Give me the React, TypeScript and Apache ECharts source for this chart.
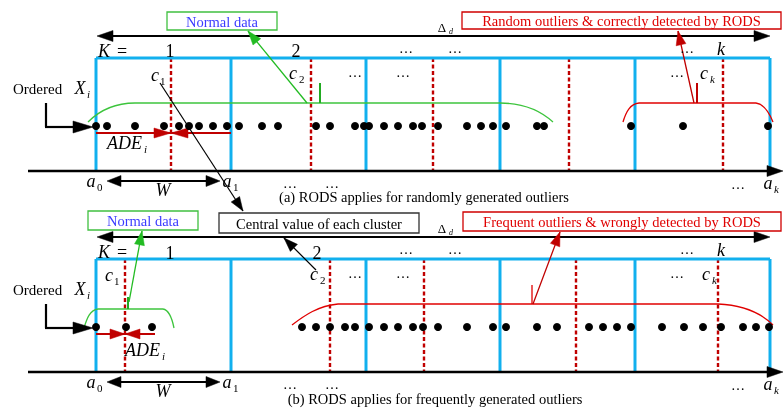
import React, { useEffect, useRef } from "react";
import * as echarts from "echarts";

// ---- data (x positions along the ordered axis) ----
const dotsA = [96, 107, 135, 164, 179, 189, 199, 213, 227, 239, 262, 278, 316, 330, 355, 364, 369, 384, 398, 413, 422, 438, 467, 481, 493, 506, 537, 544, 631, 683, 768];
const dotsB = [96, 126, 152, 302, 316, 330, 345, 355, 369, 384, 398, 413, 423, 438, 467, 493, 506, 537, 557, 589, 603, 617, 631, 662, 684, 703, 721, 743, 756, 769];
const boundaries = [96, 231, 366, 500, 635, 770];
const centersA = [171, 311, 433, 569, 723];
const centersB = [125, 330, 424, 576, 718];
const rowA = 126;
const rowB = 327;
const captionA = "(a) RODS applies for randomly generated outliers";
const captionB = "(b) RODS applies for frequently generated outliers";
const boxTextA = "Random outliers & correctly detected by RODS";
const boxTextB = "Frequent outliers & wrongly detected by RODS";
const centralText = "Central value of each cluster";
const normalText = "Normal data";

const SERIF = "'Liberation Serif', 'Times New Roman', serif";
const BLUE = "#12b0ee";
const DRED = "#c00000";
const RED = "#e00000";
const GREEN = "#3cc43c";

function txt(x: number, y: number, s: string, size: number, color = "#000", italic = false, align = "center") {
  return {
    type: "text", x, y, z: 30,
    style: {
      text: s, font: `${italic ? "italic " : ""}${size}px ${SERIF}`, fill: color,
      align, verticalAlign: "middle", textAlign: align, textVerticalAlign: "middle",
    },
  };
}
function sym(x: number, y: number, main: string, sub: string, subDx: number, size = 18) {
  const subItalic = /[a-z]/i.test(sub);
  return [
    txt(x, y, main, size, "#000", true, "center"),
    txt(x + subDx, y + 6, sub, Math.round(size * 0.62), "#000", subItalic, "left"),
  ];
}
function seg(x1: number, y1: number, x2: number, y2: number, color: string, lw: number, dash?: number[]) {
  return { type: "line", z: 10, shape: { x1, y1, x2, y2 }, style: { stroke: color, lineWidth: lw, lineDash: dash, fill: "none" } };
}
function head(fx: number, fy: number, tx: number, ty: number, L: number, w: number, color: string) {
  const dx = tx - fx, dy = ty - fy;
  const d = Math.hypot(dx, dy);
  const ux = dx / d, uy = dy / d;
  const bx = tx - ux * L, by = ty - uy * L;
  return {
    type: "polygon", z: 12,
    shape: { points: [[tx, ty], [bx - uy * w, by + ux * w], [bx + uy * w, by - ux * w]] },
    style: { fill: color, stroke: color, lineWidth: 0.5 },
  };
}
function arrow(x1: number, y1: number, x2: number, y2: number, color: string, lw: number, L = 12, w = 4.5) {
  return [seg(x1, y1, x2, y2, color, lw), head(x1, y1, x2, y2, L, w, color)];
}
function curve(x1: number, y1: number, cpx1: number, cpy1: number, cpx2: number, cpy2: number, x2: number, y2: number, color: string, lw: number) {
  return { type: "bezierCurve", z: 10, shape: { x1, y1, cpx1, cpy1, cpx2, cpy2, x2, y2 }, style: { stroke: color, lineWidth: lw, fill: "none" } };
}
function box(x: number, y: number, w: number, h: number, border: string, text: string, color: string) {
  return [
    { type: "rect", z: 15, shape: { x, y, width: w, height: h }, style: { fill: "#fff", stroke: border, lineWidth: 1.3 } },
    txt(x + w / 2, y + h / 2 + 0.5, text, 14.5, color),
  ];
}

function panel(yo: number) {
  const els: any[] = [];
  // top double arrow (Δd)
  els.push(seg(108, 36 + yo, 760, 36 + yo, "#000", 2.2));
  els.push(head(130, 36 + yo, 97, 36 + yo, 16, 5.5, "#000"));
  els.push(head(740, 36 + yo, 770, 36 + yo, 16, 5.5, "#000"));
  els.push(txt(442, 27 + yo, "Δ", 13, "#000", false, "center"));
  els.push(txt(449, 31 + yo, "d", 8, "#000", true, "left"));
  // K = ...
  els.push(txt(104, 51 + yo, "K", 18, "#000", true));
  els.push(txt(122, 51 + yo, "=", 18));
  els.push(txt(406, 48 + yo, "…", 14));
  els.push(txt(455, 48 + yo, "…", 14));
  els.push(txt(687, 48 + yo, "…", 14));
  els.push(txt(721, 49 + yo, "k", 18, "#000", true));
  // dots inside boxes
  els.push(txt(355, 72 + yo, "…", 14));
  els.push(txt(403, 72 + yo, "…", 14));
  els.push(txt(677, 72 + yo, "…", 14));
  // top blue line
  els.push(seg(96, 58 + yo, 770, 58 + yo, BLUE, 3));
  // axis
  els.push(seg(28, 171 + yo, 770, 171 + yo, "#000", 2.5));
  els.push(head(760, 171 + yo, 783, 171 + yo, 16, 5.5, "#000"));
  // Ordered X_i
  els.push(txt(13, 89 + yo, "Ordered", 15, "#000", false, "left"));
  els.push(...sym(80, 88 + yo, "X", "i", 7));
  // L arrow
  els.push(seg(46, 103 + yo, 46, 127 + yo, "#000", 2.2));
  els.push(seg(45, 127 + yo, 76, 127 + yo, "#000", 2.2));
  els.push(head(60, 127 + yo, 93, 127 + yo, 20, 6, "#000"));
  // bottom labels
  els.push(...sym(91, 181 + yo, "a", "0", 6));
  els.push(seg(118, 181 + yo, 210, 181 + yo, "#000", 2.2));
  els.push(head(150, 181 + yo, 107, 181 + yo, 14, 5.5, "#000"));
  els.push(head(180, 181 + yo, 220, 181 + yo, 14, 5.5, "#000"));
  els.push(txt(163, 190 + yo, "W", 18, "#000", true));
  els.push(...sym(227, 181 + yo, "a", "1", 6));
  els.push(txt(290, 183 + yo, "…", 14));
  els.push(txt(332, 183 + yo, "…", 14));
  els.push(txt(738, 184 + yo, "…", 14));
  els.push(...sym(768, 183 + yo, "a", "k", 6));
  return els;
}

export default function App() {
  const ref = useRef<HTMLDivElement>(null);
  useEffect(() => {
    document.body.style.margin = "0";
    const chart = echarts.init(ref.current!, null, { renderer: "svg" });
    const yo = 201;
    const g: any[] = [];
    g.push(...panel(0), ...panel(yo));

    // ---------- panel (a) specifics ----------
    g.push(txt(170, 51, "1", 18));
    g.push(txt(296, 51, "2", 18));
    g.push(...sym(155, 75, "c", "1", 5));
    g.push(...sym(293, 73, "c", "2", 6));
    g.push(...sym(704, 73, "c", "k", 6));
    g.push(seg(96, 133, 231, 133, DRED, 2));
    g.push(head(150, 133, 171, 133, 17, 5, DRED));
    g.push(head(195, 133, 171, 133, 17, 5, DRED));
    g.push(txt(107, 143, "ADE", 18, "#000", true, "left"));
    g.push(txt(144, 149, "i", 11, "#000", true, "left"));
    g.push(curve(88, 122, 100, 110, 115, 103, 135, 103, GREEN, 1.3));
    g.push(seg(135, 103, 500, 103, GREEN, 1.3));
    g.push(curve(500, 103, 522, 103, 540, 110, 553, 122, GREEN, 1.3));
    g.push(seg(320, 83, 320, 103, "#22aa22", 2));
    g.push(...arrow(307, 103, 248, 31, "#22bb22", 1.3, 14, 5));
    g.push(curve(623, 122, 626, 112, 630, 104, 639, 103, RED, 1.3));
    g.push(seg(639, 103, 756, 103, RED, 1.3));
    g.push(curve(756, 103, 764, 104, 769, 112, 773, 122, RED, 1.3));
    g.push(seg(697, 83, 697, 103, DRED, 2));
    g.push(...arrow(694, 103, 678, 31, DRED, 1.3, 14, 5));
    g.push(...arrow(160, 83, 243, 211, "#000", 1.2, 14, 5));
    g.push(...box(167, 12, 110, 18, "#40c040", normalText, "#3a3aff"));
    g.push(...box(462, 12, 319, 17, "#d00000", boxTextA, RED));
    g.push(txt(424, 197, captionA, 14.5));

    // ---------- panel (b) specifics ----------
    g.push(txt(170, 253, "1", 18));
    g.push(txt(317, 253, "2", 18));
    g.push(...sym(109, 275, "c", "1", 5));
    g.push(...sym(314, 274, "c", "2", 6));
    g.push(...sym(706, 274, "c", "k", 6));
    g.push(seg(96, 334, 155, 334, DRED, 2));
    g.push(head(105, 334, 125, 334, 15, 5, DRED));
    g.push(head(145, 334, 125, 334, 15, 5, DRED));
    g.push(txt(125, 350, "ADE", 18, "#000", true, "left"));
    g.push(txt(162, 356, "i", 11, "#000", true, "left"));
    g.push(curve(84, 328, 87, 318, 90, 310, 98, 309, GREEN, 1.3));
    g.push(seg(98, 309, 163, 309, GREEN, 1.3));
    g.push(curve(163, 309, 169, 310, 172, 318, 174, 328, GREEN, 1.3));
    g.push(seg(128, 297, 128, 309, "#22aa22", 2));
    g.push(...arrow(129, 302, 142, 231, "#22bb22", 1.3, 14, 5));
    g.push(curve(292, 325, 305, 315, 318, 306, 338, 304, RED, 1.3));
    g.push(seg(338, 304, 718, 304, RED, 1.3));
    g.push(curve(718, 304, 740, 305, 760, 312, 773, 325, RED, 1.3));
    g.push(seg(532, 285, 532, 304, RED, 1.3));
    g.push(...arrow(533, 304, 560, 232, DRED, 1.3, 14, 5));
    g.push(...arrow(316, 270, 284, 238, "#000", 1.2, 14, 5));
    g.push(...box(88, 211, 110, 19, "#40c040", normalText, "#3a3aff"));
    g.push(...box(219, 213, 200, 20, "#333", centralText, "#000"));
    g.push(...box(463, 212, 318, 19, "#d00000", boxTextB, RED));
    g.push(txt(435, 399, captionB, 14.5));

    const vData: any[] = [];
    boundaries.forEach((x) => {
      vData.push([x, 58, 171, 0]);
      vData.push([x, 58 + yo, 171 + yo, 0]);
    });
    centersA.forEach((x) => vData.push([x, 58, 170, 1]));
    centersB.forEach((x) => vData.push([x, 58 + yo, 170 + yo, 1]));

    chart.setOption({
      animation: false,
      grid: { left: 0, right: 0, top: 0, bottom: 0 },
      xAxis: { type: "value", min: 0, max: 784, show: false },
      yAxis: { type: "value", min: 0, max: 408, inverse: true, show: false },
      series: [
        {
          type: "custom",
          z: 3,
          data: vData,
          renderItem: (params: any, api: any) => {
            const x = api.value(0);
            const p0 = api.coord([x, api.value(1)]);
            const p1 = api.coord([x, api.value(2)]);
            const dashed = api.value(3) === 1;
            return {
              type: "line",
              shape: { x1: p0[0], y1: p0[1], x2: p1[0], y2: p1[1] },
              style: dashed
                ? { stroke: DRED, lineWidth: 2.4, lineDash: [4, 2.5] }
                : { stroke: BLUE, lineWidth: 3 },
            };
          },
        },
        {
          type: "scatter",
          z: 20,
          symbol: "circle",
          symbolSize: 8,
          itemStyle: { color: "#000", opacity: 1 },
          data: [...dotsA.map((x) => [x, rowA]), ...dotsB.map((x) => [x, rowB])],
        },
      ],
      graphic: { elements: g },
    });
    return () => chart.dispose();
  }, []);
  return <div ref={ref} style={{ position: "fixed", left: 0, top: 0, width: 784, height: 408 }} />;
}
